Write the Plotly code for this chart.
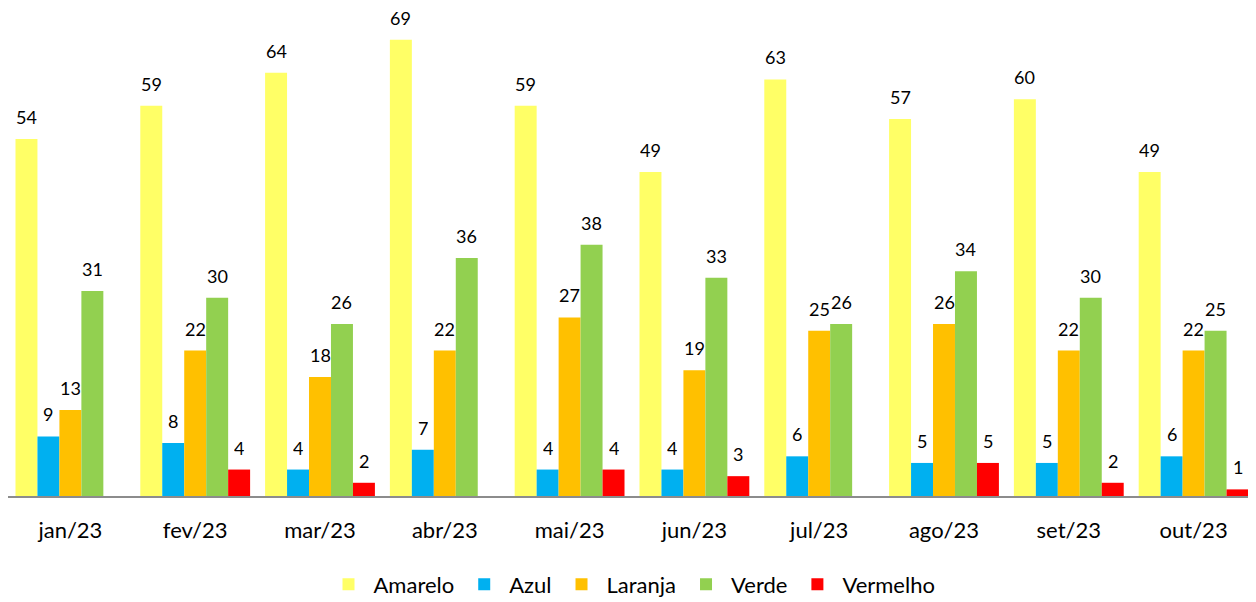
import plotly.graph_objects as go

categories = ["jan/23", "fev/23", "mar/23", "abr/23", "mai/23", "jun/23", "jul/23", "ago/23", "set/23", "out/23"]
amarelo = [54, 59, 64, 69, 59, 49, 63, 57, 60, 49]
azul = [9, 8, 4, 7, 4, 4, 6, 5, 5, 6]
laranja = [13, 22, 18, 22, 27, 19, 25, 26, 22, 22]
verde = [31, 30, 26, 36, 38, 33, 26, 34, 30, 25]
vermelho = [None, 4, 2, None, 4, 3, None, 5, 2, 1]

series = [
    ("Amarelo", amarelo, "#FFFF66"),
    ("Azul", azul, "#00B0F0"),
    ("Laranja", laranja, "#FFC000"),
    ("Verde", verde, "#92D050"),
    ("Vermelho", vermelho, "#FF0000"),
]

FONT = "Lato, 'Open Sans', sans-serif"
W, H = 1248, 594
ML, MR = 0, 0
BARGAP = 0.12

fig = go.Figure()
for name, vals, color in series:
    fig.add_trace(go.Bar(
        name=name, x=categories, y=vals,
        marker=dict(color=color, line=dict(width=0)),
    ))

# data labels above bars
plot_w = W - ML - MR
pitch = plot_w / len(categories)
bar_w = pitch * (1 - BARGAP) / len(series)
annotations = []
for i, (name, vals, color) in enumerate(series):
    for cat, v in zip(categories, vals):
        if v is None:
            continue
        annotations.append(dict(
            x=cat, y=v, xref="x", yref="y", text=str(v), showarrow=False,
            xshift=(i - (len(series) - 1) / 2) * bar_w, yshift=22,
            yanchor="middle", xanchor="center", height=16, borderpad=0,
            font=dict(size=18, family=FONT, color="#000000"),
        ))

fig.update_layout(
    width=W, height=H,
    margin=dict(l=ML, r=MR, t=0, b=106, autoexpand=False),
    barmode="group", bargap=BARGAP, bargroupgap=0,
    plot_bgcolor="white", paper_bgcolor="white",
    font=dict(family=FONT, color="#000000"),
    xaxis=dict(showline=True, linecolor="#8C8C8C", linewidth=2, ticks="",
               tickfont=dict(size=22, family=FONT, color="#000000"), ticklabelstandoff=14,
               automargin=False),
    yaxis=dict(visible=False, range=[0, 73.8], showgrid=False),
    legend=dict(orientation="h", x=0.5, xanchor="center", y=-0.138, yanchor="top",
                font=dict(size=22, family=FONT, color="#000000"),
                itemwidth=40, traceorder="normal"),
    annotations=annotations,
    showlegend=True,
)

fig.write_html("out.html")
